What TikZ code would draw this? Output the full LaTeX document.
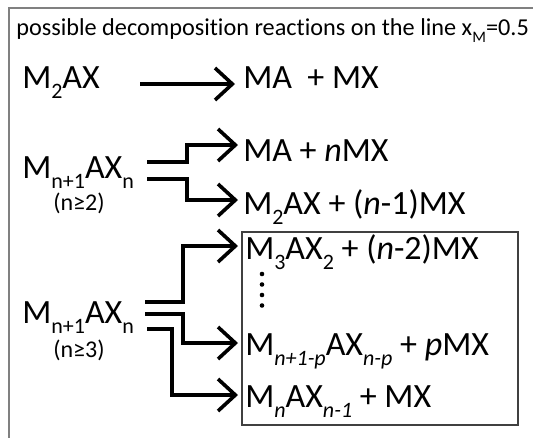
\documentclass[tikz,border=0pt]{standalone}
\usepackage{fontspec}
\setmainfont{Carlito}[Ligatures=NoCommon]
\usetikzlibrary{arrows.meta}
\newcommand{\sbs}[1]{\raisebox{-0.3em}{\fontsize{16.5}{18}\selectfont #1}}
\newcommand{\tsbs}[1]{\raisebox{-0.3em}{\fontsize{12}{14}\selectfont #1}}
\begin{document}
\begin{tikzpicture}[x=0.75pt,y=-0.75pt,
  big/.style={anchor=base west,inner sep=0pt,font=\fontsize{25.5}{30}\selectfont},
  cond/.style={anchor=base,inner sep=0pt,font=\fontsize{18}{20}\selectfont},
  rxn/.style={line width=2.7pt,-{Straight Barb[length=13pt,width=24pt,line width=2.7pt]}},
  frame/.style={draw=black!50,line width=1.2pt},
  prodbox/.style={draw=black!75,line width=0.8pt}]
\useasboundingbox (0,0) rectangle (533,437);
\draw[frame] (9,440) -- (9,8) -- (536,8);
\node[anchor=base west,inner sep=0pt,font=\fontsize{18.2}{20}\selectfont] (title) at (16,35)
  {possible decomposition reactions on the line x\tsbs{M}=0.5};
% group 1
\node[big] (r1) at (22,88) {M\sbs{2}AX};
\node[big] (p1) at (243,88) {MA\ \ + MX};
\coordinate (a1s) at (140,84);
\coordinate (a1e) at (235,84);
\draw[rxn] (a1s) -- (a1e);
% group 2
\node[big] (r2) at (22,178) {M\sbs{n+1}AX\sbs{n}};
\node[cond] (c2) at (79,210) {(n≥2)};
\node[big] (p21) at (243,161) {MA + \textit{n}MX};
\node[big] (p22) at (243,214) {M\sbs{2}AX + (\textit{n}-1)MX};
\coordinate (b21) at (147,162);
\coordinate (b22) at (147,179);
\draw[rxn] (b21) -- (187,162) -- (187,145) -- (238,145);
\draw[rxn] (b22) -- (187,179) -- (187,200) -- (238,200);
% group 3
\node[big] (r3) at (22,323) {M\sbs{n+1}AX\sbs{n}};
\node[cond] (c3) at (79,357) {(n≥3)};
\draw[prodbox] (242,232) rectangle (518,425);
\node[big] (p31) at (245,259) {M\sbs{3}AX\sbs{2} + (\textit{n}-2)MX};
\foreach \yy in {274,284.5,295,305.5}
  \fill (262,\yy) circle (2.3);
\node[big] (p32) at (245,355) {M\sbs{\itshape n+1-p}AX\sbs{\itshape n-p} + \textit{p}MX};
\node[big] (p33) at (245,407) {M\sbs{\itshape n}AX\sbs{\itshape n-1} + MX};
\coordinate (b31) at (145,302);
\coordinate (b32) at (145,314);
\coordinate (b33) at (147,329);
\draw[rxn] (b31) -- (183,302) -- (183,246) -- (238,246);
\draw[rxn] (b32) -- (183,314) -- (183,343) -- (238,343);
\draw[rxn] (b33) -- (172,329) -- (172,395) -- (238,395);
\end{tikzpicture}
\end{document}
